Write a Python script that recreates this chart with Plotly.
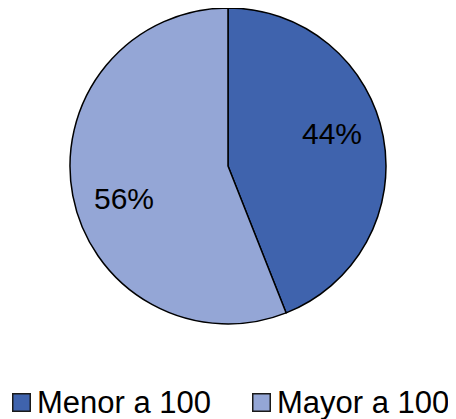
import math
import plotly.graph_objects as go

labels = ["Menor a 100", "Mayor a 100"]
values = [44, 56]
colors = ["#3F63AD", "#94A6D6"]

W, H = 456, 419
FONT = "Liberation Sans, Arial, sans-serif"
# pie geometry (figure pixels)
R = 158
CX, CY = 220, 158
LABEL_R = 0.69
LABEL_SHIFT = -6.5  # degrees
# legend layout (figure pixels)
LEG_Y = 394
LEG_KEY_X = [13, 253]
LEG_TEXT_X = [27, 267]
KEY_SIZE = 16

fig = go.Figure()
fig.add_trace(go.Pie(
    labels=labels,
    values=values,
    sort=False,
    direction="clockwise",
    rotation=0,
    marker=dict(colors=colors, line=dict(color="black", width=1.5)),
    textinfo="none",
    textposition="none",
    showlegend=False,
    hoverinfo="label+percent",
    domain=dict(x=[(CX - R) / W, (CX + R) / W], y=[1 - (CY + R) / H, 1 - (CY - R) / H]),
))

# percent labels, placed at each slice's mid angle
total = sum(values)
start = 0.0
for v in values:
    frac = v / total
    mid = (start + frac / 2) * 360 + LABEL_SHIFT
    a = math.radians(mid)
    px = CX + LABEL_R * R * math.sin(a)
    py = CY - LABEL_R * R * math.cos(a)
    fig.add_annotation(
        x=px / W, y=1 - py / H, xref="paper", yref="paper",
        text=f"{frac:.0%}", showarrow=False,
        font=dict(family=FONT, size=30, color="black"),
        xanchor="center", yanchor="middle",
    )
    start += frac

# legend: colour keys and labels
for lab, col, kx, tx in zip(labels, colors, LEG_KEY_X, LEG_TEXT_X):
    fig.add_annotation(
        x=kx / W, y=1 - LEG_Y / H, xref="paper", yref="paper",
        text=" ", showarrow=False, width=KEY_SIZE, height=KEY_SIZE,
        bgcolor=col, bordercolor="#1a1a1a", borderwidth=1.5, borderpad=0,
        xanchor="center", yanchor="middle",
        font=dict(family=FONT, size=10, color=col),
    )
    fig.add_annotation(
        x=tx / W, y=1 - LEG_Y / H, xref="paper", yref="paper",
        text=lab, showarrow=False,
        font=dict(family=FONT, size=31, color="black"),
        xanchor="left", yanchor="middle",
    )

fig.update_layout(
    width=W, height=H,
    margin=dict(l=0, r=0, t=0, b=0),
    paper_bgcolor="white",
    plot_bgcolor="white",
    showlegend=False,
)

fig.write_html("out.html")
